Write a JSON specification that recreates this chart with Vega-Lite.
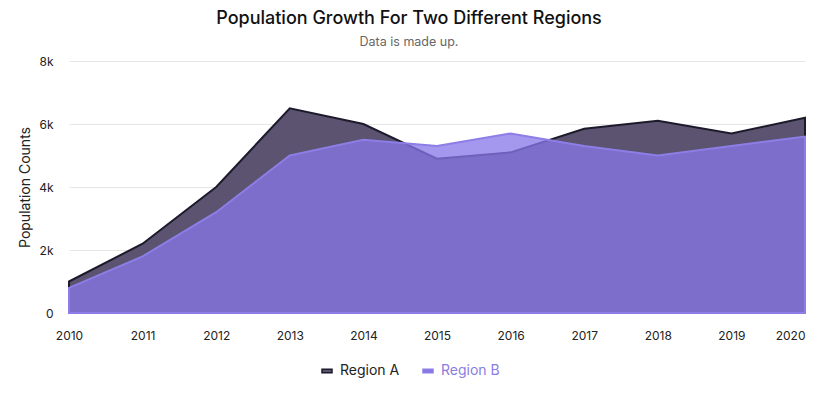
{
  "$schema": "https://vega.github.io/schema/vega-lite/v6.json",
  "width": 736,
  "height": 252,
  "autosize": "none",
  "padding": {"left": 69, "top": 61, "right": 17, "bottom": 85},
  "background": "white",
  "config": {
    "font": "Inter",
    "view": {"stroke": null}
  },
  "title": {
    "text": "Population Growth For Two Different Regions",
    "subtitle": "Data is made up.",
    "anchor": "middle",
    "dx": -28,
    "fontSize": 18,
    "fontWeight": 500,
    "color": "#111111",
    "subtitleFontSize": 12.5,
    "subtitleColor": "#666666",
    "subtitlePadding": 8,
    "offset": 7
  },
  "data": {
    "values": [
      {"year": 2010, "region": "Region A", "count": 1000},
      {"year": 2011, "region": "Region A", "count": 2200},
      {"year": 2012, "region": "Region A", "count": 4000},
      {"year": 2013, "region": "Region A", "count": 6500},
      {"year": 2014, "region": "Region A", "count": 6000},
      {"year": 2015, "region": "Region A", "count": 4900},
      {"year": 2016, "region": "Region A", "count": 5100},
      {"year": 2017, "region": "Region A", "count": 5850},
      {"year": 2018, "region": "Region A", "count": 6100},
      {"year": 2019, "region": "Region A", "count": 5700},
      {"year": 2020, "region": "Region A", "count": 6200},
      {"year": 2010, "region": "Region B", "count": 800},
      {"year": 2011, "region": "Region B", "count": 1800},
      {"year": 2012, "region": "Region B", "count": 3200},
      {"year": 2013, "region": "Region B", "count": 5000},
      {"year": 2014, "region": "Region B", "count": 5500},
      {"year": 2015, "region": "Region B", "count": 5300},
      {"year": 2016, "region": "Region B", "count": 5700},
      {"year": 2017, "region": "Region B", "count": 5300},
      {"year": 2018, "region": "Region B", "count": 5000},
      {"year": 2019, "region": "Region B", "count": 5300},
      {"year": 2020, "region": "Region B", "count": 5600}
    ]
  },
  "mark": {"type": "area", "strokeWidth": 2},
  "encoding": {
    "x": {
      "field": "year",
      "type": "quantitative",
      "scale": {"domain": [2010, 2020], "nice": false, "zero": false},
      "axis": {
        "title": null,
        "format": "d",
        "values": [2010, 2011, 2012, 2013, 2014, 2015, 2016, 2017, 2018, 2019, 2020],
        "grid": false,
        "ticks": false,
        "domainColor": "#333333",
        "domainWidth": 1,
        "labelPadding": 17,
        "labelFontSize": 12,
        "labelColor": "#222222",
        "labelAlign": {"expr": "datum.value == 2020 ? 'right' : 'center'"},
        "labelDx": {"expr": "datum.value == 2020 ? 2 : 0"}
      }
    },
    "y": {
      "field": "count",
      "type": "quantitative",
      "stack": null,
      "scale": {"domain": [0, 8000]},
      "axis": {
        "title": "Population Counts",
        "titleFontSize": 14,
        "titleFontWeight": "normal",
        "titleColor": "#222222",
        "titlePadding": 6,
        "values": [0, 2000, 4000, 6000, 8000],
        "labelExpr": "datum.value == 0 ? '0' : format(datum.value / 1000, 'd') + 'k'",
        "domain": false,
        "ticks": false,
        "gridColor": "#e6e6e6",
        "labelPadding": 16,
        "labelFontSize": 12,
        "labelColor": "#222222"
      }
    },
    "color": {
      "field": "region",
      "type": "nominal",
      "scale": {"domain": ["Region A", "Region B"], "range": ["#5b536f", "#8776e8"]},
      "legend": {
        "title": null,
        "orient": "none",
        "direction": "horizontal",
        "legendX": 251,
        "legendY": 303,
        "labelFontSize": 14,
        "labelOffset": 6,
        "symbolType": "M-1,-0.35L1,-0.35L1,0.35L-1,0.35Z",
        "symbolSize": 100,
        "symbolStrokeWidth": 1.5,
        "columnPadding": 20,
        "encode": {
          "labels": {"update": {"fill": {"signal": "datum.label === 'Region B' ? '#8a7de0' : '#222222'"}}}
        }
      }
    },
    "stroke": {
      "field": "region",
      "type": "nominal",
      "scale": {"domain": ["Region A", "Region B"], "range": ["#1d1a2c", "#8c7ee6"]}
    },
    "fillOpacity": {
      "field": "region",
      "type": "nominal",
      "scale": {"domain": ["Region A", "Region B"], "range": [1, 0.76]},
      "legend": null
    }
  }
}
